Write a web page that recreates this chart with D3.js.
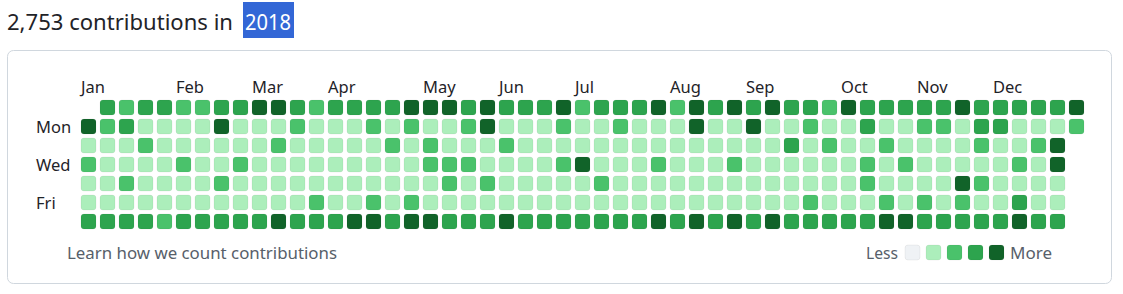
<!DOCTYPE html>
<html>
<head>
<meta charset="utf-8">
<script src="https://cdn.jsdelivr.net/npm/d3@7"></script>
<style>
  html, body { margin: 0; padding: 0; background: #fff; }
  svg { display: block; }
  text { font-family: "Noto Sans", "Open Sans", sans-serif; }
</style>
</head>
<body>
<svg id="chart" width="1123" height="294"></svg>
<script>
// ---- data (contribution level 0-4 per week column, one array per weekday) ----
const year = 2018;
const totalContributions = "2,753";
const sun = [null,3,2,3,3,2,2,3,3,4,4,3,2,3,3,3,3,4,4,4,3,4,3,3,3,4,2,3,3,3,4,2,4,3,4,3,4,3,3,2,4,3,3,3,3,3,4,3,3,3,3,3,4];
const mon = [4,2,3,1,1,1,1,4,1,1,1,2,1,1,1,2,1,2,1,1,2,4,1,1,1,2,1,1,2,1,1,1,4,1,1,4,1,1,2,1,1,3,1,1,2,2,1,3,3,1,1,1,2];
const tue = [1,1,1,2,1,1,1,1,1,1,2,1,1,1,1,1,2,1,2,1,1,1,2,1,1,1,1,1,1,1,1,1,1,1,1,1,1,3,1,2,1,1,2,1,1,1,1,2,1,1,2,4];
const wed = [2,1,1,1,1,2,1,1,2,1,1,1,1,1,1,1,1,1,2,2,2,1,1,1,1,2,4,1,1,1,2,1,1,1,2,1,1,1,1,1,1,2,1,2,1,1,1,1,1,2,1,4];
const thu = [1,1,2,1,1,1,1,2,1,1,1,1,1,1,1,1,1,1,1,2,1,2,1,1,1,1,1,2,1,1,1,1,1,1,1,1,1,1,1,1,1,2,1,1,1,1,4,2,1,1,1,1];
const fri = [1,1,1,1,1,1,1,1,1,1,1,1,2,1,1,2,1,2,1,1,1,1,1,1,1,1,1,1,1,1,1,1,1,1,1,1,1,1,2,1,1,1,2,1,2,1,2,1,1,3,1,1];
const sat = [3,3,3,3,2,3,3,3,3,3,4,3,3,3,4,4,3,4,4,3,3,3,4,3,3,3,3,3,3,3,4,3,4,3,4,3,4,3,3,3,3,3,4,4,3,3,3,3,3,4,3,3];
const weekdayRows = [sun, mon, tue, wed, thu, fri, sat];
const monthLabels = ["Jan","Feb","Mar","Apr","May","Jun","Jul","Aug","Sep","Oct","Nov","Dec"];
const dayLabels = [{row: 1, label: "Mon"}, {row: 3, label: "Wed"}, {row: 5, label: "Fri"}];
const legendLevels = [0, 1, 2, 3, 4];
const levelColors = ["#eff2f5", "#aceebb", "#4ac26b", "#2da44e", "#116329"];

// ---- layout ----
const svg = d3.select("#chart");
const nWeeks = 53;
const step = 19, gap = 4;
const gridLeft = 81, gridTop = 100;

const x = d3.scaleBand().domain(d3.range(nWeeks))
  .range([gridLeft, gridLeft + step * nWeeks - gap]).paddingInner(gap / step).paddingOuter(0);
const y = d3.scaleBand().domain(d3.range(7))
  .range([gridTop, gridTop + step * 7 - gap]).paddingInner(gap / step).paddingOuter(0);
const color = d3.scaleOrdinal().domain(legendLevels).range(levelColors);

// card
svg.append("rect").attr("x", 7.5).attr("y", 50.5).attr("width", 1104).attr("height", 233)
  .attr("rx", 6).attr("fill", "#fff").attr("stroke", "#d0d7de");

// title
function fitText(sel, w) {
  sel.attr("textLength", w).attr("lengthAdjust", "spacingAndGlyphs");
}
svg.append("text").attr("x", 7).attr("y", 29.5).attr("font-size", 22.5).attr("fill", "#1f2328")
  .text(totalContributions + " contributions in").call(fitText, 226);
svg.append("rect").attr("x", 243).attr("y", 2).attr("width", 51).attr("height", 36).attr("fill", "#3367d6");
svg.append("text").attr("x", 245).attr("y", 29.5).attr("font-size", 22.5).attr("fill", "#fff")
  .text(String(year)).call(fitText, 46);

// cells
const start = new Date(year, 0, 1), end = new Date(year + 1, 0, 1);
const days = d3.timeDays(start, end).map(d => {
  const col = d3.timeWeek.count(start, d);
  const row = d.getDay();
  return {date: d, col, row, level: weekdayRows[row][col]};
});
svg.append("g").selectAll("rect").data(days).join("rect")
  .attr("x", d => x(d.col)).attr("y", d => y(d.row))
  .attr("width", x.bandwidth()).attr("height", y.bandwidth())
  .attr("rx", 3).attr("ry", 3)
  .attr("fill", d => color(d.level))
  .attr("stroke", "rgba(27,31,35,0.06)").attr("stroke-width", 1);

// month labels: first month at the first column, others at the first week whose Sunday falls in the month
svg.append("g").selectAll("text").data(monthLabels).join("text")
  .attr("x", (m, i) => x(i === 0 ? 0 : d3.timeWeek.count(start, d3.timeSunday.ceil(new Date(year, i, 1)))))
  .attr("y", 92.5).attr("font-size", 16.5).attr("fill", "#1f2328").text(m => m);

// weekday labels
svg.append("g").selectAll("text").data(dayLabels).join("text")
  .attr("x", 36).attr("y", d => y(d.row) + y.bandwidth() / 2 + 6)
  .attr("font-size", 16.5).attr("fill", "#1f2328").text(d => d.label);

// footer
svg.append("text").attr("x", 67).attr("y", 258.5).attr("font-size", 17).attr("fill", "#57606a")
  .text("Learn how we count contributions").call(fitText, 270);

const legendX = d3.scaleBand().domain(legendLevels).range([905, 905 + 21 * 5 - 6]).paddingInner(6 / 21);
svg.append("text").attr("x", 866).attr("y", 258.5).attr("font-size", 17).attr("fill", "#57606a")
  .text("Less").call(fitText, 32);
svg.append("g").selectAll("rect").data(legendLevels).join("rect")
  .attr("x", d => legendX(d)).attr("y", 245).attr("width", legendX.bandwidth()).attr("height", 15)
  .attr("rx", 3).attr("fill", d => color(d)).attr("stroke", "rgba(27,31,35,0.06)");
svg.append("text").attr("x", 1010).attr("y", 258.5).attr("font-size", 17).attr("fill", "#57606a")
  .text("More").call(fitText, 42);
</script>
</body>
</html>
